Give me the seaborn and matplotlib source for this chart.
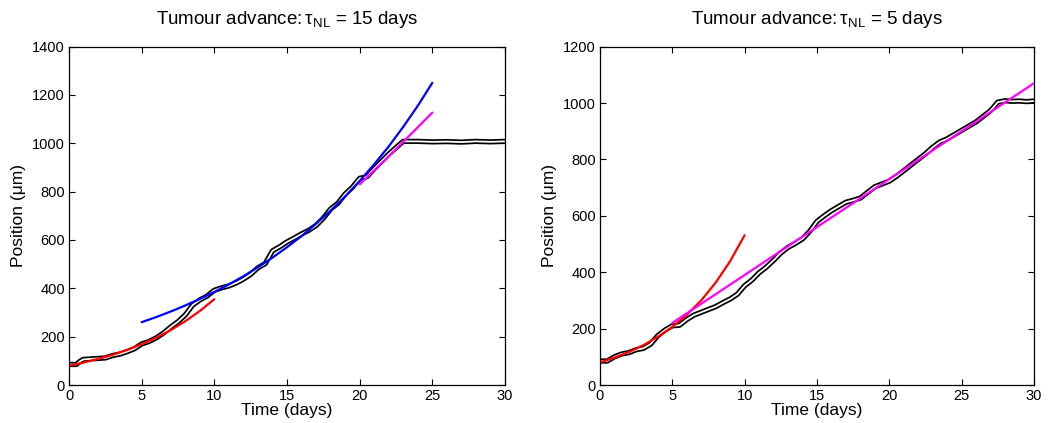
import numpy as np
import matplotlib
matplotlib.use('Agg')
import matplotlib.pyplot as plt
import pandas as pd
import seaborn as sns

sns.set_style('white')
plt.rcParams['font.family'] = ['Liberation Sans', 'DejaVu Sans']
plt.rcParams['mathtext.fontset'] = 'custom'
plt.rcParams['mathtext.rm'] = 'Liberation Sans'
plt.rcParams['mathtext.default'] = 'regular'
plt.rcParams['text.color'] = 'k'
plt.rcParams['axes.labelcolor'] = 'k'
plt.rcParams['xtick.color'] = 'k'
plt.rcParams['ytick.color'] = 'k'

# ---- tau_NL = 15 days (left) ----
t15_sim = [0, 0.5, 0.8, 1, 1.5, 2, 2.5, 3, 3.5, 4, 4.5, 5, 5.5, 6, 6.5, 7, 7.5, 8, 8.5, 9,
           9.5, 10, 10.5, 11, 11.5, 12, 12.5, 13, 13.5, 14, 14.5, 15, 15.5, 16, 16.5, 17,
           17.5, 18, 18.5, 19, 19.5, 20, 20.5, 21, 21.5, 22, 22.5, 23, 24, 25, 26, 27, 28, 29, 30]
pos15_sim = [85, 85, 100, 106, 108, 110, 112, 122, 128, 138, 150, 170, 180, 195, 215, 240, 262, 290,
             330, 352, 368, 392, 402, 410, 422, 438, 458, 485, 502, 555, 572, 592, 608, 625, 640, 660,
             690, 728, 752, 790, 818, 855, 862, 895, 925, 955, 982, 1008, 1008, 1006, 1007, 1005, 1008, 1006, 1008]

t15_red = [0, 1, 2, 3, 4, 5, 6, 7, 8, 9, 10]
pos15_red = [80, 93, 108, 125, 145, 169, 196, 227, 264, 306, 355]

t15_blue = [5, 6, 7, 8, 9, 10, 11, 12, 13, 14, 15, 16, 17, 18, 19, 20, 21, 22, 23, 24, 25]
pos15_blue = [260, 281, 304, 329, 356, 385, 416, 450, 487, 527, 570, 616, 667, 721, 780,
              844, 913, 987, 1068, 1155, 1250]

t15_mag = [20, 21, 22, 23, 24, 25]
pos15_mag = [830, 888, 946, 1006, 1066, 1127]

# ---- tau_NL = 5 days (right) ----
t5_sim = [0, 0.5, 1, 1.5, 2, 2.5, 3, 3.5, 4, 4.5, 5, 5.5, 6, 6.5, 7, 7.5, 8, 8.5, 9, 9.5, 10,
          10.5, 11, 11.5, 12, 12.5, 13, 13.5, 14, 14.5, 15, 15.5, 16, 16.5, 17, 17.5, 18, 18.5,
          19, 19.5, 20, 20.5, 21, 21.5, 22, 22.5, 23, 23.5, 24, 24.5, 25, 25.5, 26, 26.5, 27,
          27.5, 28, 28.5, 29, 29.5, 30]
pos5_sim = [85, 85, 100, 110, 115, 125, 130, 145, 175, 195, 210, 212, 232, 248, 258, 268, 278, 292,
            305, 322, 352, 372, 398, 418, 442, 468, 488, 502, 518, 545, 580, 600, 618, 633, 648, 655,
            663, 683, 703, 713, 723, 740, 760, 780, 800, 820, 843, 862, 873, 888, 903, 918, 933, 953,
            973, 1003, 1008, 1006, 1007, 1005, 1007]

t5_red = [0, 1, 2, 3, 4, 5, 6, 7, 8, 9, 10]
pos5_red = [80, 97, 117, 141, 171, 206, 249, 300, 363, 439, 531]

t5_mag = [5, 30]
pos5_mag = [220, 1070]

panels = [
    dict(title=r'Tumour advance:$\,\tau_{NL}$ = 15 days', ymax=1400,
         sim=(t15_sim, pos15_sim),
         fits=[(t15_red, pos15_red, '#ff0000'), (t15_blue, pos15_blue, '#0000ff'),
               (t15_mag, pos15_mag, '#ff00ff')]),
    dict(title=r'Tumour advance:$\,\tau_{NL}$ = 5 days', ymax=1200,
         sim=(t5_sim, pos5_sim),
         fits=[(t5_red, pos5_red, '#ff0000'), (t5_mag, pos5_mag, '#ff00ff')]),
]

fig = plt.figure(figsize=(10.52, 4.23), dpi=100)
axes = [fig.add_axes([0.0656, 0.0898, 0.4144, 0.80]),
        fig.add_axes([0.5703, 0.0898, 0.4125, 0.80])]

for ax, p in zip(axes, panels):
    sim = pd.DataFrame({'t': p['sim'][0], 'pos': p['sim'][1]})
    # black outline with white core
    sns.lineplot(data=sim, x='t', y='pos', ax=ax, color='k', linewidth=3.8)
    sns.lineplot(data=sim, x='t', y='pos', ax=ax, color='white', linewidth=1.3)
    for tt, yy, c in p['fits']:
        sns.lineplot(x=tt, y=yy, ax=ax, color=c, linewidth=1.6)

    ax.set_xlim(0, 30)
    ax.set_ylim(0, p['ymax'])
    ax.set_xticks(range(0, 31, 5))
    ax.set_yticks(range(0, p['ymax'] + 1, 200))
    ax.tick_params(direction='in', bottom=True, left=True, top=True, right=True,
                   length=4, width=0.8, labelsize=10.5, pad=3)
    for s in ax.spines.values():
        s.set_visible(True)
        s.set_color('k')
        s.set_linewidth(0.9)
    ax.set_xlabel('Time (days)', fontsize=12.5, labelpad=0)
    ax.set_ylabel('Position (μm)', fontsize=12.5, labelpad=4)
    ax.set_title(p['title'], fontsize=13.5, pad=16)
    ax.grid(False)

plt.savefig('out.png', dpi=100)
plt.close()
